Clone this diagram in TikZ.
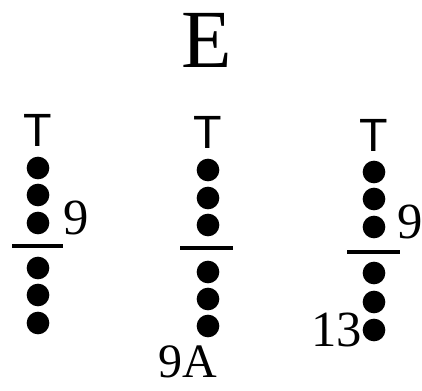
\documentclass[tikz,border=0pt]{standalone}
\usepackage{fontspec}
\setmainfont{Liberation Serif}
\setsansfont{Liberation Sans}
\begin{document}
\begin{tikzpicture}[x=0.75pt,y=-0.75pt,
  bead/.style={circle,fill=black,inner sep=0pt,minimum size=17pt},
  lbl/.style={inner sep=0pt,font=\fontsize{38}{40}\selectfont},
  top/.style={inner sep=0pt,font=\sffamily\fontsize{35}{37}\selectfont},
  bar/.style={line width=2.6pt}]
\useasboundingbox (0,0) rectangle (422,390);

% Title
\node[inner sep=0pt,font=\fontsize{62}{64}\selectfont] (title) at (207,40) {E};

% Left strand
\node[top] (tA) at (38,130) {T};
\foreach \y [count=\i] in {168,195,223,268,295,323} {
\node[bead] (a\i) at (38,\y) {};
}
\draw[bar] (12,246) -- (63,246);
\node[lbl] (nA) at (76,218) {9};

% Middle strand
\node[top] (tB) at (208,132) {T};
\foreach \y [count=\i] in {170,198,225,272,299,326} {
\node[bead] (b\i) at (208,\y) {};
}
\draw[bar] (180,248) -- (233,248);
\node[lbl,font=\fontsize{36}{38}\selectfont] (nB) at (188,362) {9A};

% Right strand
\node[top] (tC) at (374,135) {T};
\foreach \y [count=\i] in {172,199,227,273,302,330} {
\node[bead] (c\i) at (374,\y) {};
}
\draw[bar] (347,252) -- (400,252);
\node[lbl] (nC) at (410,222) {9};
\node[lbl,anchor=east] (mC) at (c6.west) {13};

\end{tikzpicture}
\end{document}
